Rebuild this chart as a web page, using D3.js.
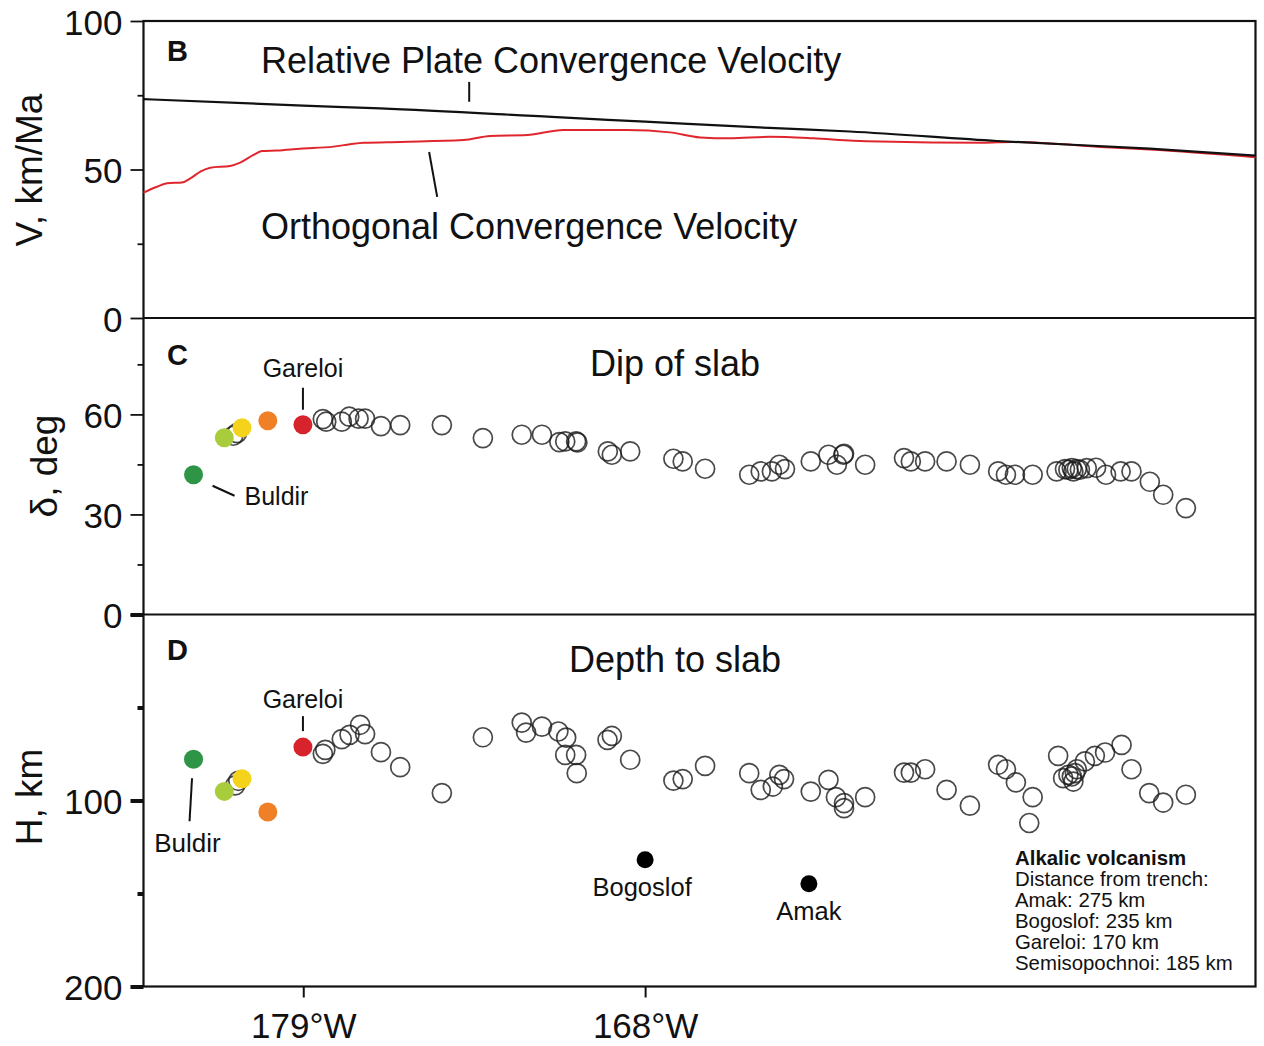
<!DOCTYPE html>
<html>
<head>
<meta charset="utf-8">
<script src="https://cdn.jsdelivr.net/npm/d3@7"></script>
<style>
  html, body { margin: 0; padding: 0; background: #fff; }
  svg { display: block; font-family: "Liberation Sans", Arial, Helvetica, sans-serif; }
</style>
</head>
<body>
<svg id="chart" width="1264" height="1046"></svg>
<script>
// ---- Data (longitude in degrees west) ----

// Panel B: convergence velocities, km/Ma
const relLon = [184.14, 179.0, 176.52, 171.0, 168.0, 164.0, 161.41, 156.68, 151.76, 148.36];
const relV   = [73.7, 71.5, 70.6, 67.7, 66.1, 64.0, 62.8, 59.6, 57.0, 54.7];

const ortLon = [184.14, 183.71, 183.38, 182.90, 182.63, 182.31, 181.99, 181.35, 181.03, 180.60,
                180.33, 179.85, 179.10, 178.03, 177.49, 177.06, 175.88, 173.84, 172.99, 171.80,
                170.63, 168.59, 167.20, 166.23, 165.27, 163.98, 162.59, 161.30, 160.44, 157.13,
                156.20, 153.00, 151.76, 148.36];
const ortV   = [42.2, 44.2, 45.4, 45.6, 47.0, 49.3, 50.6, 51.2, 52.3, 54.9,
                56.2, 56.4, 57.0, 57.7, 58.5, 59.0, 59.3, 59.9, 61.3, 61.6,
                63.3, 63.3, 62.5, 60.8, 60.5, 61.0, 60.5, 59.7, 59.4, 59.0,
                59.3, 57.4, 56.7, 54.1];

// Panel C: slab dip beneath arc volcanoes, degrees
const dipLon = [181.13, 181.25, 178.37, 178.26, 177.76, 177.52, 177.22, 177.01, 176.50, 175.88,
                174.54, 173.22, 171.97, 171.32, 170.76, 170.57, 170.22, 170.18, 169.20, 169.07,
                168.48, 167.09, 166.79, 166.07, 164.65, 164.28, 163.92, 163.68, 163.50, 162.67,
                162.10, 161.83, 161.62, 161.60, 160.92, 159.67, 159.45, 158.99, 158.30, 157.55,
                156.64, 156.39, 156.10, 155.53, 154.76, 154.49, 154.38, 154.27, 154.22, 154.11,
                154.01, 153.79, 153.49, 153.17, 152.70, 152.35, 151.76, 151.33, 150.60];
const dipVal = [54.4, 53.6, 58.6, 57.8, 57.8, 59.3, 58.7, 58.7, 56.5, 56.8,
                56.8, 52.9, 53.9, 53.9, 51.7, 51.9, 51.9, 51.6, 48.9, 47.9,
                48.9, 46.7, 45.9, 43.7, 41.9, 42.9, 42.9, 44.9, 43.6, 45.9,
                47.9, 44.9, 47.9, 48.2, 44.9, 46.9, 45.9, 45.9, 45.9, 44.9,
                42.9, 41.9, 41.9, 41.9, 42.9, 43.6, 43.4, 43.9, 42.9, 43.6,
                43.4, 43.9, 44.0, 41.9, 42.9, 42.9, 39.8, 35.9, 31.9];

// Panel D: depth to slab beneath arc volcanoes, km
const depthLon = [181.19, 181.09, 178.37, 178.29, 177.76, 177.51, 177.17, 177.01, 176.50, 175.88,
                  174.54, 173.22, 171.97, 171.83, 171.32, 170.79, 170.54, 170.57, 170.22, 170.20,
                  169.21, 169.07, 168.48, 167.09, 166.79, 166.07, 164.65, 164.28, 163.89, 163.68,
                  163.53, 162.67, 162.10, 161.86, 161.60, 161.60, 160.92, 159.67, 159.45, 158.99,
                  158.30, 157.55, 156.64, 156.39, 156.07, 155.53, 155.64, 154.71, 154.55, 154.38,
                  154.27, 154.22, 154.11, 154.17, 153.85, 153.53, 153.20, 152.67, 152.35, 151.78,
                  151.33, 150.60];
const depthVal = [91.9, 89.4, 74.9, 72.8, 67.0, 64.7, 59.3, 64.3, 74.0, 82.1,
                  96.0, 66.0, 58.1, 63.5, 60.3, 62.9, 66.2, 75.5, 75.5, 85.3,
                  67.4, 65.3, 78.1, 89.3, 88.5, 81.4, 85.3, 94.3, 92.5, 86.2,
                  88.5, 95.2, 88.9, 98.2, 101.4, 104.1, 98.2, 85.0, 85.0, 83.2,
                  94.3, 102.8, 80.8, 83.2, 90.3, 98.2, 112.1, 76.0, 88.0, 86.2,
                  87.1, 89.8, 83.2, 85.3, 79.0, 76.0, 74.2, 70.1, 83.2, 96.0,
                  101.1, 96.9];

// Western arc volcanoes highlighted in colour (Buldir to Gareloi)
const westLabels = ["Buldir", "", "", "", "Gareloi"];
const westLon    = [182.53, 181.54, 180.97, 180.14, 179.01];
const westDip    = [41.9, 53.0, 56.0, 58.1, 56.9];
const westDepth  = [77.8, 95.1, 88.3, 106.2, 71.3];

// Back-arc alkalic centres
const alkLabels = ["Bogoslof", "Amak"];
const alkLon    = [168.00, 162.73];
const alkDepth  = [131.8, 144.7];

const legendLines = ["Alkalic volcanism", "Distance from trench:", "Amak: 275 km",
                     "Bogoslof: 235 km", "Gareloi: 170 km", "Semisopochnoi: 185 km"];

// Tick values
const xTicks = [179, 168];
const vMajor = [0, 50, 100],   vMinor = [25, 75];
const dipMajor = [0, 30, 60],  dipMinor = [15, 45, 75];
const depMajor = [0, 100, 200], depMinor = [50, 150];

// ---- Layout & styles ----
const westColors = ["#2f9546", "#a8cc3c", "#f5d31c", "#ef8025", "#d6232c"];
const L = 143.5, R = 1255.5;
const topB = 21, botB = 318, botC = 614.5, botD = 986.5;
const ink = "#111";

const svg = d3.select("#chart");

const x  = d3.scaleLinear().domain([184.14, 148.36]).range([L, R]);
const yB = d3.scaleLinear().domain([0, 100]).range([botB, topB]);
const yC = d3.scaleLinear().domain([0, 88.9]).range([botC, botB]);
const yD = d3.scaleLinear().domain([0, 200]).range([botC, botD]);

// ---- Axes ----
function leftAxis(scale, major, minor, fmt, width) {
  const gMinor = svg.append("g").attr("transform", `translate(${L},0)`)
    .call(d3.axisLeft(scale).tickValues(minor).tickSize(6).tickFormat(""));
  const gMajor = svg.append("g").attr("transform", `translate(${L},0)`)
    .call(d3.axisLeft(scale).tickValues(major).tickSize(13).tickPadding(8).tickFormat(fmt));
  [gMinor, gMajor].forEach(g => {
    g.select(".domain").remove();
    g.selectAll("line").attr("stroke", ink).attr("stroke-width", width);
    g.selectAll("text").attr("font-size", 35).attr("fill", ink)
      .attr("font-family", "'Liberation Sans', Arial, sans-serif").attr("dy", "0.38em");
  });
}
leftAxis(yB, vMajor, vMinor, d => d, 1.8);
leftAxis(yC, dipMajor, dipMinor, d => d, 1.8);
leftAxis(yD, depMajor, depMinor, d => (d === 0 ? "" : d), 4);

const gx = svg.append("g").attr("transform", `translate(0,${botD})`)
  .call(d3.axisBottom(x).tickValues(xTicks).tickSize(11).tickPadding(16).tickFormat(d => d + "°W"));
gx.select(".domain").remove();
gx.selectAll("line").attr("stroke", ink).attr("stroke-width", 2);
gx.selectAll("text").attr("font-size", 35).attr("fill", ink)
  .attr("font-family", "'Liberation Sans', Arial, sans-serif");

// ---- Frames ----
svg.append("rect").attr("x", L).attr("y", topB).attr("width", R - L).attr("height", botD - topB)
  .attr("fill", "none").attr("stroke", ink).attr("stroke-width", 2.2);
[botB, botC].forEach(v => svg.append("line").attr("x1", L).attr("x2", R).attr("y1", v).attr("y2", v)
  .attr("stroke", ink).attr("stroke-width", 2));

// ---- Axis titles ----
function yTitle(txt, cx, cy) {
  svg.append("text").attr("transform", `translate(${cx},${cy}) rotate(-90)`)
    .attr("text-anchor", "middle").attr("font-size", 37).attr("fill", ink).text(txt);
}
yTitle("V, km/Ma", 42, 170);
yTitle("δ, deg", 57, 466);
yTitle("H, km", 42, 797);

// ---- Panel letters & titles ----
[["B", 61], ["C", 365], ["D", 660]].forEach(([t, yy]) =>
  svg.append("text").attr("x", 167).attr("y", yy).attr("font-size", 29).attr("font-weight", "bold")
    .attr("fill", ink).text(t));

svg.append("text").attr("x", 675).attr("y", 376).attr("text-anchor", "middle")
  .attr("font-size", 36).attr("fill", ink).text("Dip of slab");
svg.append("text").attr("x", 675).attr("y", 672).attr("text-anchor", "middle")
  .attr("font-size", 36).attr("fill", ink).text("Depth to slab");

// ---- Panel B: velocity curves ----
const lineB = d3.line().x(d => x(d[0])).y(d => yB(d[1])).curve(d3.curveMonotoneX);
svg.append("path").datum(d3.zip(ortLon, ortV)).attr("d", lineB)
  .attr("fill", "none").attr("stroke", "#e0262d").attr("stroke-width", 2);
svg.append("path").datum(d3.zip(relLon, relV)).attr("d", lineB)
  .attr("fill", "none").attr("stroke", ink).attr("stroke-width", 2.2);

svg.append("text").attr("x", 261).attr("y", 73).attr("font-size", 36).attr("fill", ink)
  .text("Relative Plate Convergence Velocity");
svg.append("line").attr("x1", x(173.66)).attr("x2", x(173.66)).attr("y1", yB(79.5)).attr("y2", yB(72.8))
  .attr("stroke", ink).attr("stroke-width", 2);
svg.append("text").attr("x", 261).attr("y", 239).attr("font-size", 36).attr("fill", ink)
  .text("Orthogonal Convergence Velocity");
svg.append("line").attr("x1", x(174.95)).attr("x2", x(174.69)).attr("y1", yB(55.9)).attr("y2", yB(40.8))
  .attr("stroke", ink).attr("stroke-width", 2);

// ---- Panel C: dip of slab ----
const R0 = 9.5;
svg.append("g").selectAll("circle").data(d3.zip(dipLon, dipVal)).join("circle")
  .attr("cx", d => x(d[0])).attr("cy", d => yC(d[1])).attr("r", R0)
  .attr("fill", "none").attr("stroke", "#1b1b1b").attr("stroke-width", 1.7).attr("stroke-opacity", 0.8);
svg.append("g").selectAll("circle").data(d3.range(westLon.length)).join("circle")
  .attr("cx", i => x(westLon[i])).attr("cy", i => yC(westDip[i])).attr("r", R0)
  .attr("fill", i => westColors[i]);

// Labels for Gareloi and Buldir (panel C)
const gi = westLabels.indexOf("Gareloi"), bi = westLabels.indexOf("Buldir");
svg.append("text").attr("x", x(westLon[gi])).attr("y", yC(westDip[gi]) - 48).attr("text-anchor", "middle")
  .attr("font-size", 25).attr("fill", ink).text(westLabels[gi]);
svg.append("line").attr("x1", x(westLon[gi])).attr("x2", x(westLon[gi]))
  .attr("y1", yC(westDip[gi]) - 37).attr("y2", yC(westDip[gi]) - 15)
  .attr("stroke", ink).attr("stroke-width", 2);
svg.append("text").attr("x", x(westLon[bi]) + 51).attr("y", yC(westDip[bi]) + 30)
  .attr("font-size", 25).attr("fill", ink).text(westLabels[bi]);
svg.append("line").attr("x1", x(westLon[bi]) + 19).attr("x2", x(westLon[bi]) + 41)
  .attr("y1", yC(westDip[bi]) + 11).attr("y2", yC(westDip[bi]) + 21)
  .attr("stroke", ink).attr("stroke-width", 2);

// ---- Panel D: depth to slab ----
svg.append("g").selectAll("circle").data(d3.zip(depthLon, depthVal)).join("circle")
  .attr("cx", d => x(d[0])).attr("cy", d => yD(d[1])).attr("r", R0)
  .attr("fill", "none").attr("stroke", "#1b1b1b").attr("stroke-width", 1.7).attr("stroke-opacity", 0.8);
svg.append("g").selectAll("circle").data(d3.range(westLon.length)).join("circle")
  .attr("cx", i => x(westLon[i])).attr("cy", i => yD(westDepth[i])).attr("r", R0)
  .attr("fill", i => westColors[i]);

svg.append("text").attr("x", x(westLon[gi])).attr("y", yD(westDepth[gi]) - 39).attr("text-anchor", "middle")
  .attr("font-size", 25).attr("fill", ink).text(westLabels[gi]);
svg.append("line").attr("x1", x(westLon[gi])).attr("x2", x(westLon[gi]))
  .attr("y1", yD(westDepth[gi]) - 31).attr("y2", yD(westDepth[gi]) - 16)
  .attr("stroke", ink).attr("stroke-width", 2);
svg.append("text").attr("x", x(westLon[bi]) - 6).attr("y", yD(westDepth[bi]) + 93).attr("text-anchor", "middle")
  .attr("font-size", 26).attr("fill", ink).text(westLabels[bi]);
svg.append("line").attr("x1", x(westLon[bi]) - 1.5).attr("x2", x(westLon[bi]) - 4)
  .attr("y1", yD(westDepth[bi]) + 19).attr("y2", yD(westDepth[bi]) + 62)
  .attr("stroke", ink).attr("stroke-width", 2);

// Alkalic centres
svg.append("g").selectAll("circle").data(d3.range(alkLon.length)).join("circle")
  .attr("cx", i => x(alkLon[i])).attr("cy", i => yD(alkDepth[i])).attr("r", 8.5).attr("fill", "#000");
svg.append("g").selectAll("text").data(d3.range(alkLon.length)).join("text")
  .attr("x", i => x(alkLon[i]) - (i === 0 ? 3 : 0)).attr("y", i => yD(alkDepth[i]) + 36)
  .attr("text-anchor", "middle").attr("font-size", 25.5).attr("fill", ink).text(i => alkLabels[i]);

// Legend block
svg.append("g").selectAll("text").data(legendLines).join("text")
  .attr("x", 1015).attr("y", (d, i) => 865 + i * 21)
  .attr("font-size", 20.4)
  .attr("font-weight", (d, i) => (i === 0 ? "bold" : "normal"))
  .attr("fill", ink).text(d => d);
</script>
</body>
</html>
